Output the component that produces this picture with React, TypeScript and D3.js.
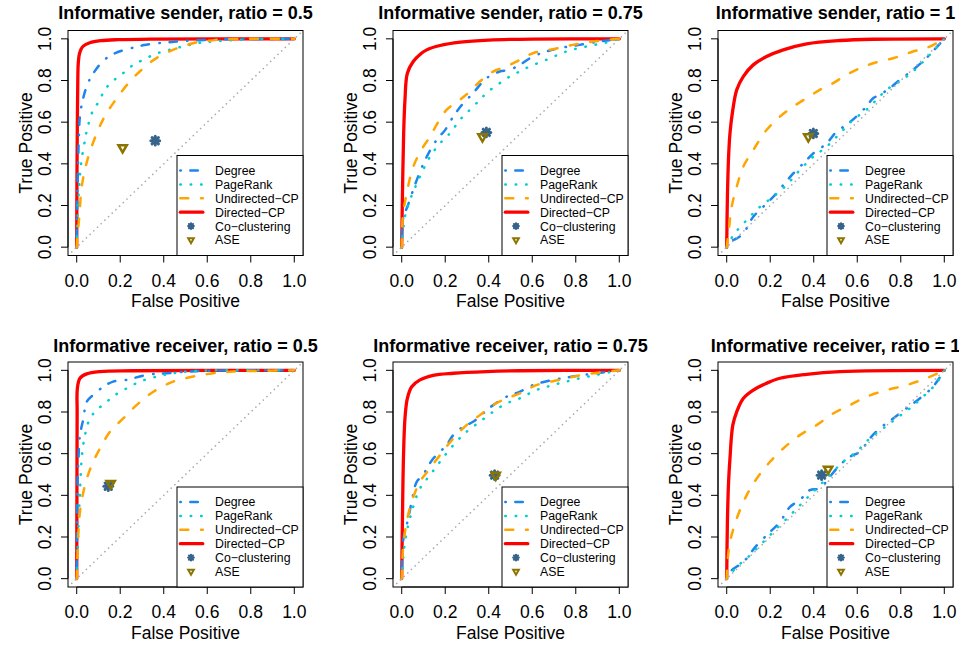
import React from "react";
import * as d3 from "d3";

type Pt = [number, number];

// ---------- text ----------
const panelTitles = [
  "Informative sender, ratio = 0.5",
  "Informative sender, ratio = 0.75",
  "Informative sender, ratio = 1",
  "Informative receiver, ratio = 0.5",
  "Informative receiver, ratio = 0.75",
  "Informative receiver, ratio = 1",
];
const methodLabels = ["Degree", "PageRank", "Undirected\u2212CP", "Directed\u2212CP", "Co\u2212clustering", "ASE"];
const tickValues = [0, 0.2, 0.4, 0.6, 0.8, 1.0];
const tickLabels = ["0.0", "0.2", "0.4", "0.6", "0.8", "1.0"];
const xAxisTitle = "False Positive";
const yAxisTitle = "True Positive";

// ---------- Informative sender, ratio = 0.5 ----------
const s05Degree: Pt[] = [[0,0],[0.002,0.2],[0.005,0.35],[0.009,0.5],[0.015,0.63],[0.03,0.716],[0.052,0.788],[0.083,0.845],[0.128,0.9],[0.18,0.933],[0.243,0.953],[0.31,0.97],[0.38,0.98],[0.45,0.986],[0.5,0.99],[0.6,0.995],[0.7,0.998],[1,1]];
const s05PageRank: Pt[] = [[0,0],[0.004,0.15],[0.01,0.27],[0.02,0.4],[0.038,0.514],[0.049,0.571],[0.076,0.659],[0.105,0.703],[0.125,0.749],[0.156,0.788],[0.193,0.819],[0.229,0.848],[0.266,0.88],[0.309,0.9],[0.355,0.925],[0.4,0.94],[0.495,0.965],[0.56,0.98],[0.64,0.988],[0.8,0.998],[1,1]];
const s05Undirected: Pt[] = [[0,0],[0.003,0.05],[0.012,0.146],[0.023,0.29],[0.049,0.418],[0.092,0.546],[0.13,0.63],[0.174,0.7],[0.235,0.784],[0.3,0.853],[0.37,0.91],[0.457,0.953],[0.535,0.979],[0.642,0.995],[0.8,1.0],[1,1]];
const s05Directed: Pt[] = [[0,0],[0.001,0.3],[0.003,0.6],[0.005,0.8],[0.007,0.88],[0.012,0.925],[0.02,0.95],[0.03,0.965],[0.06,0.981],[0.11,0.991],[0.19,0.996],[0.34,0.999],[1,1]];
const s05CoClustering: Pt = [0.361, 0.511];
const s05ASE: Pt = [0.211, 0.478];

// ---------- Informative sender, ratio = 0.75 ----------
const s075Degree: Pt[] = [[0,0],[0.008,0.146],[0.026,0.194],[0.069,0.322],[0.115,0.434],[0.16,0.514],[0.2,0.563],[0.237,0.627],[0.282,0.69],[0.328,0.739],[0.366,0.787],[0.389,0.811],[0.45,0.843],[0.496,0.851],[0.542,0.875],[0.603,0.915],[0.664,0.939],[0.725,0.955],[0.817,0.971],[0.908,0.987],[1,1]];
const s075PageRank: Pt[] = [[0,0],[0.015,0.146],[0.038,0.226],[0.084,0.338],[0.13,0.434],[0.176,0.498],[0.221,0.546],[0.267,0.61],[0.313,0.659],[0.359,0.707],[0.389,0.739],[0.45,0.787],[0.496,0.819],[0.542,0.843],[0.588,0.867],[0.664,0.899],[0.756,0.939],[0.847,0.963],[0.939,0.982],[1,1]];
const s075Undirected: Pt[] = [[0,0],[0.005,0.146],[0.023,0.258],[0.053,0.386],[0.099,0.482],[0.13,0.53],[0.16,0.587],[0.206,0.659],[0.267,0.707],[0.313,0.747],[0.359,0.795],[0.42,0.843],[0.481,0.867],[0.542,0.899],[0.603,0.931],[0.695,0.95],[0.786,0.971],[0.878,0.987],[1,1]];
const s075Directed: Pt[] = [[0,0],[0.003,0.226],[0.009,0.546],[0.015,0.707],[0.026,0.835],[0.053,0.891],[0.084,0.925],[0.115,0.947],[0.176,0.968],[0.27,0.984],[0.4,0.994],[0.6,0.999],[1,1]];
const s075CoClustering: Pt = [0.389, 0.551];
const s075ASE: Pt = [0.371, 0.53];

// ---------- Informative sender, ratio = 1 ----------
const s1Degree: Pt[] = [[0,0],[0.015,0.026],[0.046,0.042],[0.076,0.066],[0.122,0.146],[0.168,0.194],[0.214,0.242],[0.26,0.298],[0.306,0.354],[0.352,0.402],[0.398,0.45],[0.459,0.498],[0.505,0.555],[0.55,0.587],[0.596,0.627],[0.642,0.675],[0.673,0.715],[0.703,0.731],[0.749,0.763],[0.795,0.803],[0.856,0.851],[0.917,0.907],[1,1]];
const s1PageRank: Pt[] = [[0,0],[0.031,0.058],[0.092,0.13],[0.153,0.194],[0.214,0.242],[0.275,0.298],[0.336,0.37],[0.398,0.434],[0.459,0.482],[0.52,0.546],[0.581,0.611],[0.642,0.659],[0.688,0.707],[0.734,0.755],[0.795,0.795],[0.856,0.843],[0.933,0.923],[1,1]];
const s1Undirected: Pt[] = [[0,0],[0.008,0.066],[0.023,0.194],[0.046,0.29],[0.076,0.386],[0.122,0.466],[0.183,0.562],[0.245,0.627],[0.306,0.675],[0.367,0.715],[0.428,0.755],[0.489,0.787],[0.55,0.827],[0.612,0.859],[0.673,0.883],[0.765,0.907],[0.856,0.939],[0.933,0.963],[1,1]];
const s1Directed: Pt[] = [[0,0],[0.003,0.226],[0.008,0.418],[0.015,0.546],[0.028,0.659],[0.046,0.755],[0.076,0.819],[0.122,0.875],[0.183,0.915],[0.26,0.947],[0.367,0.976],[0.52,0.992],[0.673,0.998],[1,1]];
const s1CoClustering: Pt = [0.398, 0.546];
const s1ASE: Pt = [0.375, 0.53];

// ---------- Informative receiver, ratio = 0.5 ----------
const r05Degree: Pt[] = [[0,0],[0.003,0.417],[0.008,0.577],[0.015,0.689],[0.031,0.769],[0.046,0.849],[0.084,0.889],[0.122,0.921],[0.168,0.946],[0.229,0.954],[0.321,0.978],[0.413,0.986],[0.566,0.997],[1,1]];
const r05PageRank: Pt[] = [[0,0],[0.008,0.256],[0.015,0.417],[0.023,0.577],[0.038,0.689],[0.061,0.769],[0.092,0.809],[0.138,0.849],[0.176,0.881],[0.229,0.913],[0.291,0.946],[0.367,0.97],[0.443,0.986],[0.566,0.998],[1,1]];
const r05Undirected: Pt[] = [[0,0],[0.003,0.096],[0.008,0.224],[0.015,0.321],[0.038,0.449],[0.069,0.545],[0.107,0.625],[0.153,0.705],[0.214,0.769],[0.275,0.833],[0.352,0.897],[0.443,0.946],[0.535,0.97],[0.627,0.986],[0.719,0.994],[1,1]];
const r05Directed: Pt[] = [[0,0],[0.001,0.4],[0.002,0.8],[0.003,0.913],[0.015,0.962],[0.046,0.983],[0.107,0.994],[0.26,0.998],[1,1]];
const r05CoClustering: Pt = [0.145, 0.444];
const r05ASE: Pt = [0.156, 0.457];

// ---------- Informative receiver, ratio = 0.75 ----------
const r075Degree: Pt[] = [[0,0],[0.008,0.192],[0.026,0.272],[0.046,0.369],[0.069,0.465],[0.099,0.497],[0.115,0.529],[0.145,0.577],[0.176,0.609],[0.206,0.641],[0.237,0.689],[0.282,0.729],[0.328,0.753],[0.374,0.793],[0.42,0.833],[0.481,0.873],[0.542,0.897],[0.603,0.929],[0.695,0.954],[0.786,0.97],[0.893,0.986],[1,1]];
const r075PageRank: Pt[] = [[0,0],[0.015,0.176],[0.046,0.321],[0.084,0.433],[0.13,0.497],[0.176,0.561],[0.237,0.641],[0.298,0.705],[0.359,0.753],[0.42,0.801],[0.481,0.841],[0.542,0.865],[0.618,0.905],[0.695,0.929],[0.786,0.954],[0.893,0.978],[1,1]];
const r075Undirected: Pt[] = [[0,0],[0.005,0.128],[0.02,0.256],[0.046,0.369],[0.084,0.465],[0.13,0.529],[0.176,0.593],[0.237,0.673],[0.298,0.737],[0.359,0.785],[0.42,0.833],[0.481,0.865],[0.542,0.889],[0.618,0.929],[0.725,0.954],[0.832,0.978],[1,1]];
const r075Directed: Pt[] = [[0,0],[0.003,0.256],[0.008,0.577],[0.015,0.769],[0.026,0.865],[0.046,0.921],[0.084,0.954],[0.145,0.976],[0.237,0.986],[0.389,0.994],[0.542,0.998],[1,1]];
const r075CoClustering: Pt = [0.427, 0.497];
const r075ASE: Pt = [0.432, 0.497];

// ---------- Informative receiver, ratio = 1 ----------
const r1Degree: Pt[] = [[0,0],[0.023,0.04],[0.076,0.08],[0.138,0.16],[0.199,0.224],[0.245,0.272],[0.291,0.345],[0.336,0.377],[0.382,0.425],[0.428,0.433],[0.474,0.489],[0.52,0.545],[0.566,0.585],[0.612,0.609],[0.658,0.673],[0.703,0.721],[0.765,0.769],[0.826,0.817],[0.887,0.865],[0.948,0.921],[1,1]];
const r1PageRank: Pt[] = [[0,0],[0.046,0.056],[0.107,0.112],[0.168,0.176],[0.229,0.24],[0.291,0.304],[0.352,0.369],[0.413,0.433],[0.474,0.497],[0.535,0.561],[0.596,0.609],[0.658,0.673],[0.719,0.721],[0.78,0.769],[0.841,0.817],[0.902,0.873],[0.963,0.937],[1,1]];
const r1Undirected: Pt[] = [[0,0],[0.005,0.096],[0.015,0.176],[0.046,0.288],[0.092,0.401],[0.138,0.481],[0.199,0.561],[0.26,0.625],[0.336,0.689],[0.413,0.737],[0.489,0.793],[0.566,0.833],[0.642,0.873],[0.734,0.905],[0.826,0.929],[0.917,0.962],[1,1]];
const r1Directed: Pt[] = [[0,0],[0.003,0.256],[0.008,0.449],[0.015,0.577],[0.028,0.737],[0.046,0.801],[0.076,0.865],[0.122,0.905],[0.183,0.938],[0.245,0.962],[0.367,0.981],[0.52,0.994],[1,1]];
const r1CoClustering: Pt = [0.436, 0.497];
const r1ASE: Pt = [0.466, 0.526];

// ---------- assembled panels ----------
const panels = [
  { title: panelTitles[0], degree: s05Degree, pagerank: s05PageRank, undirected: s05Undirected, directed: s05Directed, cocl: s05CoClustering, ase: s05ASE },
  { title: panelTitles[1], degree: s075Degree, pagerank: s075PageRank, undirected: s075Undirected, directed: s075Directed, cocl: s075CoClustering, ase: s075ASE },
  { title: panelTitles[2], degree: s1Degree, pagerank: s1PageRank, undirected: s1Undirected, directed: s1Directed, cocl: s1CoClustering, ase: s1ASE },
  { title: panelTitles[3], degree: r05Degree, pagerank: r05PageRank, undirected: r05Undirected, directed: r05Directed, cocl: r05CoClustering, ase: r05ASE },
  { title: panelTitles[4], degree: r075Degree, pagerank: r075PageRank, undirected: r075Undirected, directed: r075Directed, cocl: r075CoClustering, ase: r075ASE },
  { title: panelTitles[5], degree: r1Degree, pagerank: r1PageRank, undirected: r1Undirected, directed: r1Directed, cocl: r1CoClustering, ase: r1ASE },
];

// ---------- styles ----------
const FONT = "'Liberation Sans', Arial, Helvetica, sans-serif";
const C_DEG = "#1C86EE";
const C_PR = "#00CED1";
const C_UND = "#FFA500";
const C_DIR = "#FF0000";
const C_CO = "#36648B";
const C_ASE = "#8B7500";
const DASH_DEG = "0.5,9.5,7.5,10.5";
const DASH_PR = "0.5,9.9";
const DASH_UND = "8,12.7";

const W = 959;
const H = 646;
const colLeft = [68, 393, 718];
const rowTop = [30.5, 362];
const titleBase = [18.5, 351.5];
const plotW = 235;
const plotH = 225;

function Star({ cx, cy, r, sw }: { cx: number; cy: number; r: number; sw: number }) {
  const d = r * 0.72;
  return (
    <g stroke={C_CO} strokeWidth={sw} strokeLinecap="round">
      <line x1={cx - r} y1={cy} x2={cx + r} y2={cy} />
      <line x1={cx} y1={cy - r} x2={cx} y2={cy + r} />
      <line x1={cx - d} y1={cy - d} x2={cx + d} y2={cy + d} />
      <line x1={cx - d} y1={cy + d} x2={cx + d} y2={cy - d} />
    </g>
  );
}

function DownTri({ cx, cy, xc, sw }: { cx: number; cy: number; xc: number; sw: number }) {
  const pts = [
    [cx - 1.347 * xc, cy - 0.778 * xc],
    [cx + 1.347 * xc, cy - 0.778 * xc],
    [cx, cy + 1.555 * xc],
  ];
  return <polygon points={pts.map((p) => p.join(",")).join(" ")} fill="none" stroke={C_ASE} strokeWidth={sw} strokeLinejoin="miter" />;
}

function Panel({ idx }: { idx: number }) {
  const p = panels[idx];
  const left = colLeft[idx % 3];
  const top = rowTop[Math.floor(idx / 3)];
  const bottom = top + plotH;
  const right = left + plotW;
  const x = d3.scaleLinear().domain([-0.04, 1.04]).range([left, right]);
  const y = d3.scaleLinear().domain([-0.04, 1.04]).range([bottom, top]);
  const line = d3
    .line<Pt>()
    .x((d) => x(d[0]))
    .y((d) => y(d[1]))
    .curve(d3.curveCatmullRom.alpha(0.5));
  const clipId = `clip${idx}`;
  const cx = (left + right) / 2;
  const cy = (top + bottom) / 2;

  // legend
  const lw = 126;
  const lh = 100;
  const lx = right - lw;
  const ly = bottom - lh;
  const rowY = (i: number) => ly + 15 + i * 13.9;
  const segX1 = lx + 3.3;
  const segX2 = lx + 25.8;
  const ptX = lx + 14;
  const txtX = lx + 38;

  return (
    <g>
      <defs>
        <clipPath id={clipId}>
          <rect x={left} y={top} width={plotW} height={plotH} />
        </clipPath>
      </defs>
      <text x={cx} y={titleBase[Math.floor(idx / 3)]} textAnchor="middle" fontFamily={FONT} fontWeight="bold" fontSize={18}>
        {p.title}
      </text>
      <g clipPath={`url(#${clipId})`} fill="none">
        <path d={line(p.directed) || ""} stroke={C_DIR} strokeWidth={3.3} strokeLinejoin="round" strokeLinecap="round" />
        <path d={line(p.degree) || ""} stroke={C_DEG} strokeWidth={2.5} strokeDasharray={DASH_DEG} strokeLinecap="round" />
        <path d={line(p.pagerank) || ""} stroke={C_PR} strokeWidth={2.5} strokeDasharray={DASH_PR} strokeLinecap="round" />
        <path d={line(p.undirected) || ""} stroke={C_UND} strokeWidth={2.5} strokeDasharray={DASH_UND} strokeLinecap="round" />
        <line x1={x(-0.04)} y1={y(-0.04)} x2={x(1.04)} y2={y(1.04)} stroke="#AAAAAA" strokeWidth={1.6} strokeDasharray="0.1,5" strokeLinecap="round" />
        <Star cx={x(p.cocl[0])} cy={y(p.cocl[1])} r={4.4} sw={3} />
        <DownTri cx={x(p.ase[0])} cy={y(p.ase[1])} xc={3.1} sw={2.5} />
      </g>
      {/* box */}
      <rect x={left} y={top} width={plotW} height={plotH} fill="none" stroke="#000" strokeWidth={1} />
      {/* x axis */}
      <line x1={x(0)} y1={bottom} x2={x(1)} y2={bottom} stroke="#000" strokeWidth={1} />
      {tickValues.map((v, i) => (
        <g key={`xt${i}`}>
          <line x1={x(v)} y1={bottom} x2={x(v)} y2={bottom + 7} stroke="#000" strokeWidth={1} />
          <text x={x(v)} y={bottom + 31} textAnchor="middle" fontFamily={FONT} fontSize={17.5}>
            {tickLabels[i]}
          </text>
        </g>
      ))}
      {/* y axis */}
      <line x1={left} y1={y(0)} x2={left} y2={y(1)} stroke="#000" strokeWidth={1} />
      {tickValues.map((v, i) => (
        <g key={`yt${i}`}>
          <line x1={left - 7} y1={y(v)} x2={left} y2={y(v)} stroke="#000" strokeWidth={1} />
          <text transform={`translate(${left - 17},${y(v)}) rotate(-90)`} textAnchor="middle" fontFamily={FONT} fontSize={17.5}>
            {tickLabels[i]}
          </text>
        </g>
      ))}
      <text x={cx} y={bottom + 51.5} textAnchor="middle" fontFamily={FONT} fontSize={17.5}>
        {xAxisTitle}
      </text>
      <text transform={`translate(${left - 36.5},${cy}) rotate(-90)`} textAnchor="middle" fontFamily={FONT} fontSize={17.5}>
        {yAxisTitle}
      </text>
      {/* legend */}
      <rect x={lx} y={ly} width={lw} height={lh} fill="#fff" stroke="#000" strokeWidth={1} />
      <line x1={segX1} y1={rowY(0)} x2={segX2} y2={rowY(0)} stroke={C_DEG} strokeWidth={2.5} strokeDasharray={DASH_DEG} strokeLinecap="round" />
      <line x1={segX1} y1={rowY(1)} x2={segX2} y2={rowY(1)} stroke={C_PR} strokeWidth={2.5} strokeDasharray={DASH_PR} strokeLinecap="round" />
      <line x1={segX1} y1={rowY(2)} x2={segX2} y2={rowY(2)} stroke={C_UND} strokeWidth={2.5} strokeDasharray={DASH_UND} strokeLinecap="round" />
      <line x1={segX1} y1={rowY(3)} x2={segX2} y2={rowY(3)} stroke={C_DIR} strokeWidth={3.3} strokeLinecap="round" />
      <Star cx={ptX} cy={rowY(4)} r={2.8} sw={2.2} />
      <DownTri cx={ptX} cy={rowY(5)} xc={2.1} sw={2} />
      {methodLabels.map((t, i) => (
        <text key={`lg${i}`} x={txtX} y={rowY(i) + 4.4} fontFamily={FONT} fontSize={12.3}>
          {t}
        </text>
      ))}
    </g>
  );
}

export default function App() {
  return (
    <svg width={W} height={H} viewBox={`0 0 ${W} ${H}`} style={{ position: "absolute", left: 0, top: 0, background: "#fff" }}>
      <rect x={0} y={0} width={W} height={H} fill="#fff" />
      {panels.map((_, i) => (
        <Panel key={i} idx={i} />
      ))}
    </svg>
  );
}
